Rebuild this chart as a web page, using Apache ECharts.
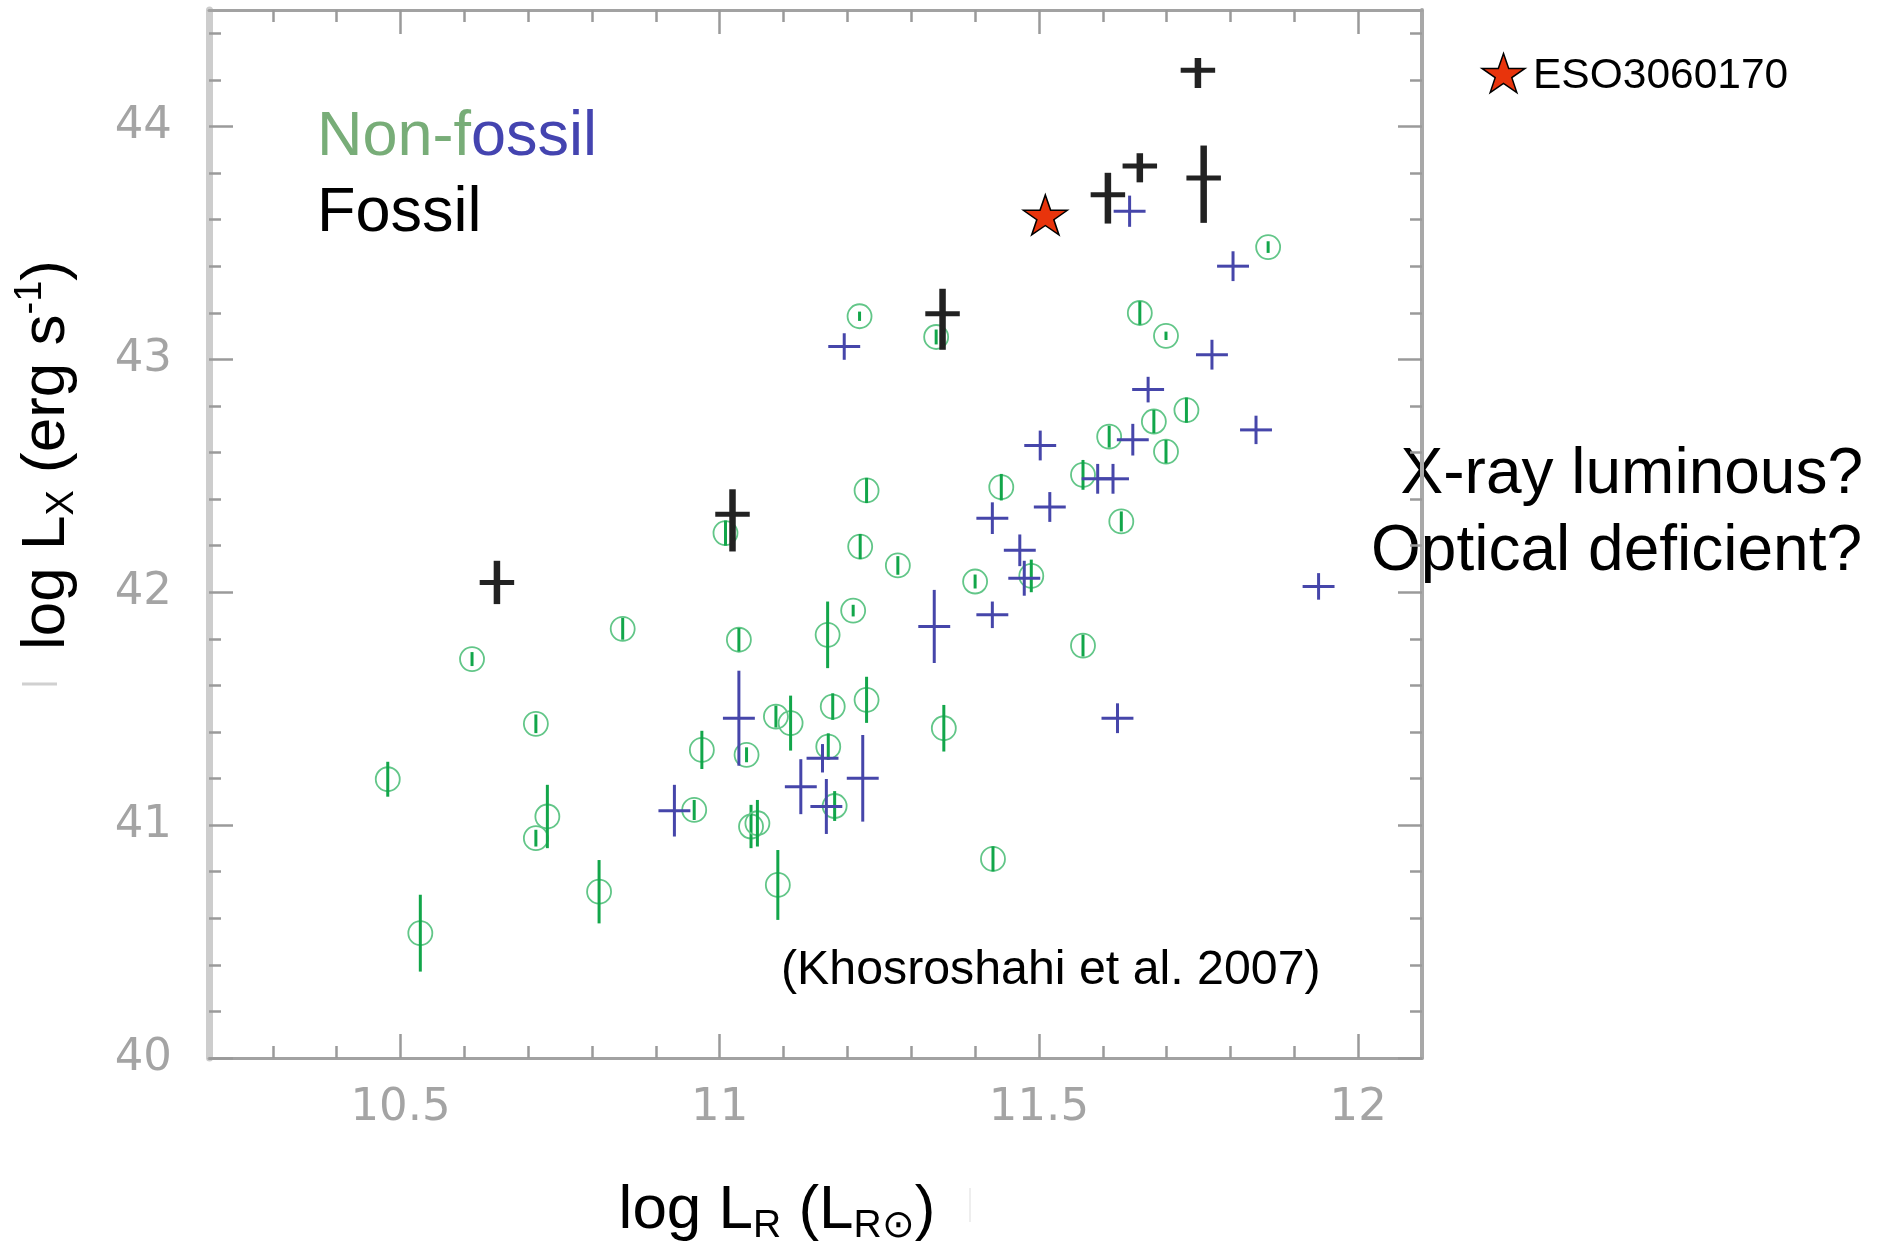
<!DOCTYPE html>
<html>
<head>
<meta charset="utf-8">
<script src="https://cdn.jsdelivr.net/npm/echarts@6/dist/echarts.min.js"></script>
<style>html,body{margin:0;padding:0;background:#fff}#c{width:1887px;height:1243px}</style>
</head>
<body>
<div id="c"></div>
<script>
// ---- data (log L_R, log L_X) ----
const greenX = [10.480, 10.531, 10.612, 10.712, 10.712, 10.730, 10.811, 10.848, 10.960, 10.972, 11.009, 11.030, 11.042, 11.049, 11.059, 11.088, 11.091, 11.111, 11.169, 11.170, 11.177, 11.180, 11.209, 11.219, 11.220, 11.230, 11.230, 11.279, 11.339, 11.351, 11.400, 11.428, 11.441, 11.488, 11.569, 11.569, 11.610, 11.629, 11.658, 11.680, 11.699, 11.699, 11.731, 11.859];
const greenY = [41.197, 40.536, 41.713, 41.435, 40.944, 41.037, 40.714, 41.843, 41.065, 41.323, 42.254, 41.796, 41.302, 40.994, 41.008, 41.466, 40.743, 41.438, 41.817, 41.337, 41.509, 41.082, 41.921, 43.185, 42.196, 42.437, 41.538, 42.115, 43.096, 41.416, 42.046, 40.855, 42.451, 42.070, 42.504, 41.771, 42.668, 42.304, 43.199, 42.733, 43.101, 42.604, 42.782, 43.482];
const greenErr = [0.075, 0.165, 0.030, 0.040, 0.036, 0.136, 0.136, 0.047, 0.043, 0.082, 0.054, 0.050, 0.032, 0.093, 0.100, 0.047, 0.150, 0.118, 0.143, 0.057, 0.057, 0.064, 0.025, 0.020, 0.054, 0.054, 0.099, 0.040, 0.032, 0.100, 0.030, 0.054, 0.057, 0.070, 0.064, 0.047, 0.047, 0.043, 0.050, 0.050, 0.018, 0.050, 0.054, 0.025];

const blueX = [10.929, 11.030, 11.127, 11.161, 11.167, 11.195, 11.224, 11.336, 11.427, 11.427, 11.470, 11.477, 11.502, 11.517, 11.592, 11.616, 11.623, 11.642, 11.647, 11.671, 11.771, 11.804, 11.840, 11.938];
const blueY = [41.062, 41.459, 41.165, 41.287, 41.080, 43.055, 41.201, 41.853, 41.903, 42.318, 42.180, 42.060, 42.630, 42.366, 42.487, 42.487, 41.459, 43.636, 42.655, 42.870, 43.020, 43.400, 42.697, 42.025];
const blueErr = [0.111, 0.204, 0.118, 0.061, 0.118, 0.057, 0.186, 0.157, 0.057, 0.068, 0.068, 0.075, 0.064, 0.064, 0.064, 0.064, 0.064, 0.067, 0.068, 0.055, 0.064, 0.064, 0.061, 0.057];
const blueXErr = 0.025;

const fossilX = [10.651, 11.020, 11.349, 11.608, 11.658, 11.749, 11.758];
const fossilY = [42.042, 42.335, 43.196, 43.707, 43.830, 44.241, 43.779];
const fossilErrUp = [0.093, 0.107, 0.107, 0.094, 0.055, 0.053, 0.139];
const fossilErrDown = [0.093, 0.160, 0.155, 0.124, 0.070, 0.076, 0.193];
const fossilXErr = 0.027;

const starX = [11.51];
const starY = [43.62];
const starName = 'ESO3060170';

const xMajor = [10.5, 11, 11.5, 12];
const xTickLabels = ['10.5', '11', '11.5', '12'];
const xMinor = [10.3, 10.4, 10.6, 10.7, 10.8, 10.9, 11.1, 11.2, 11.3, 11.4, 11.6, 11.7, 11.8, 11.9];
const yMajor = [40, 41, 42, 43, 44];
const yTickLabels = ['40', '41', '42', '43', '44'];
const yMinor = [40.2, 40.4, 40.6, 40.8, 41.2, 41.4, 41.6, 41.8, 42.2, 42.4, 42.6, 42.8, 43.2, 43.4, 43.6, 43.8, 44.2, 44.4];

// ---- build ----
const STAR_PTS = [[50, 0], [61.8, 35.1], [98.9, 35.1], [68.9, 56.9], [80.3, 91.9], [50, 70.3], [19.7, 91.9], [31.1, 56.9], [1.1, 35.1], [38.2, 35.1]];
const STAR_PATH = 'M' + STAR_PTS.map(p => p[0] + ',' + p[1]).join(' L') + ' Z';
function starPolygon(x0, y0, w, h) {
  return STAR_PTS.map(p => [x0 + (p[0] - 1.1) / 97.8 * w, y0 + p[1] / 91.9 * h]);
}

const greenData = greenX.map((x, i) => [x, greenY[i], greenErr[i]]);
const blueData = blueX.map((x, i) => [x, blueY[i], blueErr[i], blueErr[i]]);
const fossilData = fossilX.map((x, i) => [x, fossilY[i], fossilErrUp[i], fossilErrDown[i]]);
const starData = starX.map((x, i) => [x, starY[i]]);

function labelFor(values, labels) {
  return function (v) {
    for (let i = 0; i < values.length; i++) if (Math.abs(values[i] - v) < 1e-6) return labels[i];
    return '';
  };
}

function renderGreen(params, api) {
  const x = api.value(0), y = api.value(1), e = api.value(2);
  const c = api.coord([x, y]);
  const t = api.coord([x, y + e]);
  const b = api.coord([x, y - e]);
  return {
    type: 'group', children: [
      { type: 'circle', shape: { cx: c[0], cy: c[1], r: 12 }, style: { fill: 'none', stroke: '#62c688', lineWidth: 1.8 } },
      { type: 'line', shape: { x1: c[0], y1: t[1], x2: c[0], y2: b[1] }, style: { stroke: '#12a64a', lineWidth: 3 } }
    ]
  };
}

function makeCross(color, hw, vw, dx) {
  return function (params, api) {
    const x = api.value(0), y = api.value(1), up = api.value(2), dn = api.value(3);
    const c = api.coord([x, y]);
    const l = api.coord([x - dx, y]);
    const r = api.coord([x + dx, y]);
    const t = api.coord([x, y + up]);
    const b = api.coord([x, y - dn]);
    return {
      type: 'group', children: [
        { type: 'line', shape: { x1: l[0], y1: c[1], x2: r[0], y2: c[1] }, style: { stroke: color, lineWidth: hw } },
        { type: 'line', shape: { x1: c[0], y1: t[1], x2: c[0], y2: b[1] }, style: { stroke: color, lineWidth: vw } }
      ]
    };
  };
}

const tickColor = '#9a9a9a';
const labelStyle = { color: '#a4a4a4', fontSize: 45, fontFamily: 'DejaVu Sans' };

function xAx(pos, values, len, showLine, labels) {
  return {
    type: 'value', position: pos, min: 10.2, max: 12.1,
    axisLine: { show: showLine, onZero: false, lineStyle: { color: '#a2a2a2', width: 3 } },
    axisTick: { show: true, inside: true, length: len, customValues: values, lineStyle: { color: tickColor, width: 2.5 } },
    axisLabel: labels ? Object.assign({ show: true, margin: 28, customValues: xMajor, formatter: labelFor(xMajor, xTickLabels) }, labelStyle) : { show: false },
    splitLine: { show: false }
  };
}
function yAx(pos, values, len, showLine, labels, lineColor, lineWidth) {
  return {
    type: 'value', position: pos, min: 40, max: 44.5,
    axisLine: { show: showLine, onZero: false, lineStyle: { color: lineColor || '#a2a2a2', width: lineWidth || 3 } },
    axisTick: { show: true, inside: true, length: len, customValues: values, lineStyle: { color: tickColor, width: 2.5 } },
    axisLabel: labels ? Object.assign({ show: true, margin: 37, customValues: yMajor, formatter: labelFor(yMajor, yTickLabels) }, labelStyle) : { show: false },
    splitLine: { show: false }
  };
}

const F = 'Liberation Sans, Arial, sans-serif';

const option = {
  backgroundColor: '#ffffff',
  animation: false,
  grid: { left: 209, top: 10, width: 1213, height: 1048, containLabel: false },
  xAxis: [
    xAx('bottom', xMajor, 24, true, true),
    xAx('bottom', xMinor, 12, false, false),
    xAx('top', xMajor, 24, true, false),
    xAx('top', xMinor, 12, false, false)
  ],
  yAxis: [
    yAx('left', yMajor, 24, true, true, '#cdcdcd', 7),
    yAx('left', yMinor, 12, false, false),
    yAx('right', yMajor, 24, true, false, '#a8a8a8', 4),
    yAx('right', yMinor, 12, false, false)
  ],
  series: [
    { name: 'Non-fossil (circles)', type: 'custom', xAxisIndex: 0, yAxisIndex: 0, renderItem: renderGreen, data: greenData, encode: { x: 0, y: 1 }, z: 2 },
    { name: 'Non-fossil (crosses)', type: 'custom', xAxisIndex: 0, yAxisIndex: 0, renderItem: makeCross('#4646aa', 3, 3, blueXErr), data: blueData, encode: { x: 0, y: 1 }, z: 3 },
    { name: 'Fossil', type: 'custom', xAxisIndex: 0, yAxisIndex: 0, renderItem: makeCross('#222222', 5, 6.5, fossilXErr), data: fossilData, encode: { x: 0, y: 1 }, z: 4 },
    { name: starName, type: 'scatter', xAxisIndex: 0, yAxisIndex: 0, data: starData, symbol: 'path://' + STAR_PATH, symbolSize: [44, 40], symbolKeepAspect: false,
      itemStyle: { color: '#e8340c', borderColor: '#000', borderWidth: 1.5, opacity: 1 }, z: 5 }
  ],
  graphic: {
    elements: [
      { type: 'text', x: 317, y: 138, style: { text: '{g|Non-f}{b|ossil}', align: 'left', verticalAlign: 'middle', textAlign: 'left', textVerticalAlign: 'middle',
        rich: { g: { fontSize: 63, fontFamily: F, fill: '#78ad78' }, b: { fontSize: 63, fontFamily: F, fill: '#4444b0' } } } },
      { type: 'text', x: 317, y: 214, style: { text: 'Fossil', fontSize: 63, fontFamily: F, fill: '#000', align: 'left', verticalAlign: 'middle', textAlign: 'left', textVerticalAlign: 'middle' } },
      { type: 'polygon', shape: { points: starPolygon(1482, 53.5, 43, 39) }, style: { fill: '#e8340c', stroke: '#000', lineWidth: 1.5 } },
      { type: 'text', x: 1533, y: 76, style: { text: starName, fontSize: 42.5, fontFamily: F, fill: '#000', align: 'left', verticalAlign: 'middle', textAlign: 'left', textVerticalAlign: 'middle' } },
      { type: 'text', x: 1863, y: 475, style: { text: 'X-ray luminous?', fontSize: 64, fontFamily: F, fill: '#000', align: 'right', verticalAlign: 'middle', textAlign: 'right', textVerticalAlign: 'middle' } },
      { type: 'text', x: 1862, y: 552, style: { text: 'Optical deficient?', fontSize: 64, fontFamily: F, fill: '#000', align: 'right', verticalAlign: 'middle', textAlign: 'right', textVerticalAlign: 'middle' } },
      { type: 'text', x: 781, y: 971, style: { text: '(Khosroshahi et al. 2007)', fontSize: 48.3, fontFamily: F, fill: '#000', align: 'left', verticalAlign: 'middle', textAlign: 'left', textVerticalAlign: 'middle' } },
      { type: 'text', x: 777, y: 1211, style: { text: '{n|log L}{s|R}{n| (L}{s|R⊙}{n|)}', align: 'center', verticalAlign: 'middle', textAlign: 'center', textVerticalAlign: 'middle',
        rich: { n: { fontSize: 62, fontFamily: F, fill: '#000', lineHeight: 70 }, s: { fontSize: 39, fontFamily: F, fill: '#000', lineHeight: 28, verticalAlign: 'bottom' } } } },
      { type: 'text', x: 47, y: 455, rotation: Math.PI / 2, style: { text: '{n|log L}{s|X}{n| (erg s}{p|-1}{n|)}', align: 'center', verticalAlign: 'middle', textAlign: 'center', textVerticalAlign: 'middle',
        rich: { n: { fontSize: 62, fontFamily: F, fill: '#000', lineHeight: 70 }, s: { fontSize: 38, fontFamily: F, fill: '#000', lineHeight: 30, verticalAlign: 'bottom' }, p: { fontSize: 38, fontFamily: F, fill: '#000', lineHeight: 30, verticalAlign: 'top' } } } },
      { type: 'line', shape: { x1: 22, y1: 684, x2: 57, y2: 684 }, style: { stroke: '#d0d0d0', lineWidth: 3 } },
      { type: 'line', shape: { x1: 970, y1: 1188, x2: 970, y2: 1222 }, style: { stroke: '#eeeeee', lineWidth: 2 } }
    ]
  }
};

const chart = echarts.init(document.getElementById('c'), null, { renderer: 'canvas' });
chart.setOption(option);
</script>
</body>
</html>
